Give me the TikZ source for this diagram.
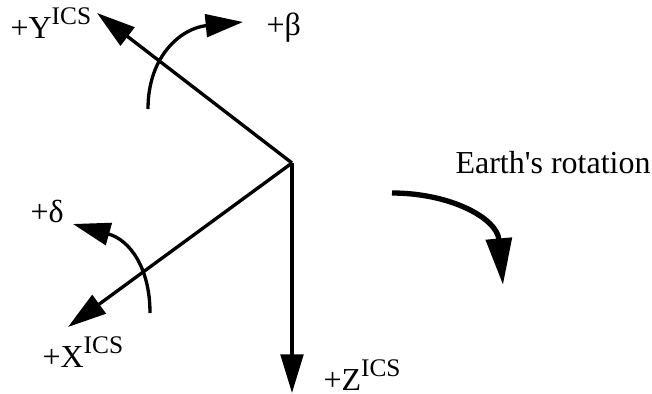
\documentclass[tikz,border=0pt]{standalone}
\usepackage{fontspec}
\setmainfont{Liberation Serif}[Ligatures=TeXOff]
\usetikzlibrary{arrows.meta,positioning}
\newcommand{\ics}{\raisebox{0.42em}{\fontsize{9.5}{10}\selectfont ICS}}
\tikzset{
  axis/.style={-{Triangle[length=14.5pt,width=8.5pt]}, line width=1.25pt, draw=black},
  turn/.style={-{Triangle[length=14pt,width=8.5pt]}, line width=1.25pt, draw=black},
  spin/.style={-{Triangle[length=17.5pt,width=9.5pt]}, line width=2pt, draw=black},
  lbl/.style={anchor=base west, inner sep=0pt, font=\fontsize{12}{14}\selectfont}
}

\begin{document}
\begin{tikzpicture}[x=0.375pt, y=-0.375pt]
  \useasboundingbox (0,0) rectangle (652,394);
  % axes
  \coordinate (origin) at (292,163);
  \coordinate (ytip) at (97,13);
  \coordinate (xtip) at (68,327);
  \coordinate (ztip) at (292,393);
  \draw[axis] (origin) -- (ytip);
  \draw[axis] (origin) -- (xtip);
  \draw[axis] (origin) -- (ztip);
  \node[lbl] (ylabel) at (10,38) {+Y\ics};
  \node[lbl] (xlabel) at (42,367) {+X\ics};
  \node[lbl] (zlabel) at (323,390) {+Z\ics};
  % angles
  \coordinate (betastart) at (148,109);
  \coordinate (betaend) at (243,22);
  \draw[turn] (betastart) .. controls (148,55) and (182,28) .. (betaend);
  \node[lbl] (beta) at (266,35) {+β};
  \coordinate (deltastart) at (150,313);
  \coordinate (deltaend) at (73,224);
  \draw[turn] (deltastart) .. controls (150,268) and (130,240) .. (deltaend);
  \node[lbl] (delta) at (30,222) {+δ};
  % rotation
  \node[lbl] (earth) at (455,173) {Earth's rotation};
  \coordinate (spinstart) at (392,193);
  \coordinate (spinend) at (503,285);
  \draw[spin] (spinstart) .. controls (450,193) and (497,218) .. (spinend);
\end{tikzpicture}
\end{document}
